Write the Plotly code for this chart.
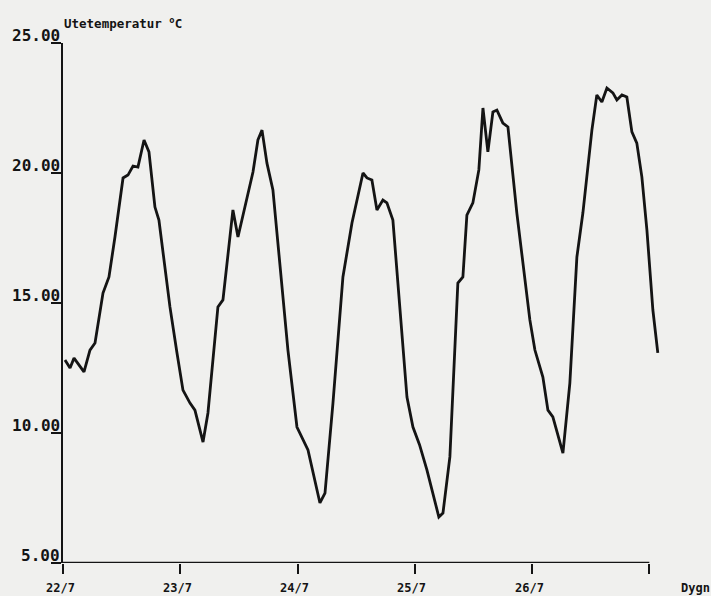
import plotly.graph_objects as go

# Outdoor temperature, 22/7 - 27/7. Time in days after midnight 22/7.
days = [
    0.017, 0.060, 0.094, 0.179, 0.230, 0.273, 0.341, 0.392, 0.443, 0.512,
    0.554, 0.597, 0.639, 0.691, 0.733, 0.784, 0.818, 0.912, 0.972, 1.023,
    1.083, 1.125, 1.194, 1.236, 1.321, 1.364, 1.449, 1.492, 1.620, 1.662,
    1.697, 1.739, 1.790, 1.918, 1.995, 2.089, 2.191, 2.234, 2.302, 2.387,
    2.464, 2.558, 2.592, 2.634, 2.677, 2.728, 2.762, 2.813, 2.933, 2.984,
    3.040, 3.103, 3.205, 3.240, 3.299, 3.367, 3.410, 3.444, 3.495, 3.546,
    3.581, 3.598, 3.623, 3.666, 3.700, 3.751, 3.794, 3.870, 3.981, 4.024,
    4.092, 4.135, 4.177, 4.263, 4.322, 4.382, 4.433, 4.510, 4.552, 4.595,
    4.638, 4.689, 4.723, 4.766, 4.808, 4.851, 4.893, 4.936, 4.979, 5.030,
    5.072,
]
temperature = [
    12.81, 12.50, 12.88, 12.35, 13.19, 13.46, 15.38, 16.00, 17.54, 19.81,
    19.92, 20.27, 20.23, 21.27, 20.81, 18.69, 18.19, 14.85, 13.08, 11.65,
    11.15, 10.88, 9.65, 10.77, 14.85, 15.12, 18.58, 17.54, 20.04, 21.27,
    21.65, 20.38, 19.35, 13.19, 10.23, 9.35, 7.31, 7.69, 11.15, 16.00,
    18.08, 20.00, 19.81, 19.73, 18.58, 18.96, 18.85, 18.19, 11.38, 10.23,
    9.55, 8.58, 6.77, 6.92, 9.08, 15.77, 16.00, 18.38, 18.85, 20.12,
    22.50, 21.77, 20.81, 22.35, 22.42, 21.92, 21.77, 18.46, 14.35, 13.19,
    12.15, 10.88, 10.62, 9.23, 11.92, 16.77, 18.46, 21.65, 23.00, 22.73,
    23.27, 23.08, 22.81, 23.00, 22.92, 21.58, 21.15, 19.85, 17.81, 14.73,
    13.08,
]

x_ticks = [0, 1, 2, 3, 4, 5]
x_tick_labels = ["22/7", "23/7", "24/7", "25/7", "26/7", ""]
y_ticks = [5, 10, 15, 20, 25]
y_tick_labels = ["5.00", "10.00", "15.00", "20.00", "25.00"]

mono = "DejaVu Sans Mono"
ink = "#141414"
paper = "#f0f0ee"

fig = go.Figure()
fig.add_trace(go.Scatter(
    x=days, y=temperature, mode="lines",
    line=dict(color=ink, width=2.8),
    hoverinfo="skip", showlegend=False,
))

# Horizontal time axis only spans the five days
fig.add_shape(type="line", xref="x", yref="y", x0=0, x1=5, y0=5, y1=5,
              line=dict(color=ink, width=2.4))

annotations = []
for v, t in zip(y_ticks, y_tick_labels):
    annotations.append(dict(
        xref="paper", yref="y", x=0, y=v, text=t, showarrow=False,
        xanchor="right", yanchor="bottom", xshift=-1, yshift=-4,
        font=dict(family=mono, size=16, color=ink, weight="bold"),
    ))
for v, t in zip(x_ticks, x_tick_labels):
    if t:
        annotations.append(dict(
            xref="x", yref="paper", x=v, y=0, text=t, showarrow=False,
            xanchor="center", yanchor="top", xshift=-3, yshift=-16,
            font=dict(family=mono, size=12, color=ink, weight="bold"),
        ))
annotations.append(dict(
    xref="x", yref="paper", x=5.25, y=0, text="Dygn", showarrow=False,
    xanchor="left", yanchor="top", yshift=-16,
    font=dict(family=mono, size=12, color=ink, weight="bold"),
))
annotations.append(dict(
    xref="paper", yref="y", x=0, y=25, text="Utetemperatur <sup>o</sup>C",
    showarrow=False, xanchor="left", yanchor="bottom", xshift=-1, yshift=10,
    font=dict(family=mono, size=12.5, color=ink, weight="bold"),
))

fig.update_layout(
    width=711, height=596,
    margin=dict(l=63, r=3, t=43, b=33),
    paper_bgcolor=paper, plot_bgcolor=paper,
    xaxis=dict(
        range=[0, 5.5], showgrid=False, zeroline=False, showline=False,
        tickvals=x_ticks, showticklabels=False,
        ticks="outside", ticklen=10, tickwidth=2, tickcolor=ink,
        fixedrange=True,
    ),
    yaxis=dict(
        range=[5, 25], showgrid=False, zeroline=False,
        showline=True, linecolor=ink, linewidth=2.4,
        tickvals=y_ticks, showticklabels=False,
        ticks="outside", ticklen=10, tickwidth=2, tickcolor=ink,
        fixedrange=True,
    ),
    annotations=annotations,
)

fig.write_html("out.html")
